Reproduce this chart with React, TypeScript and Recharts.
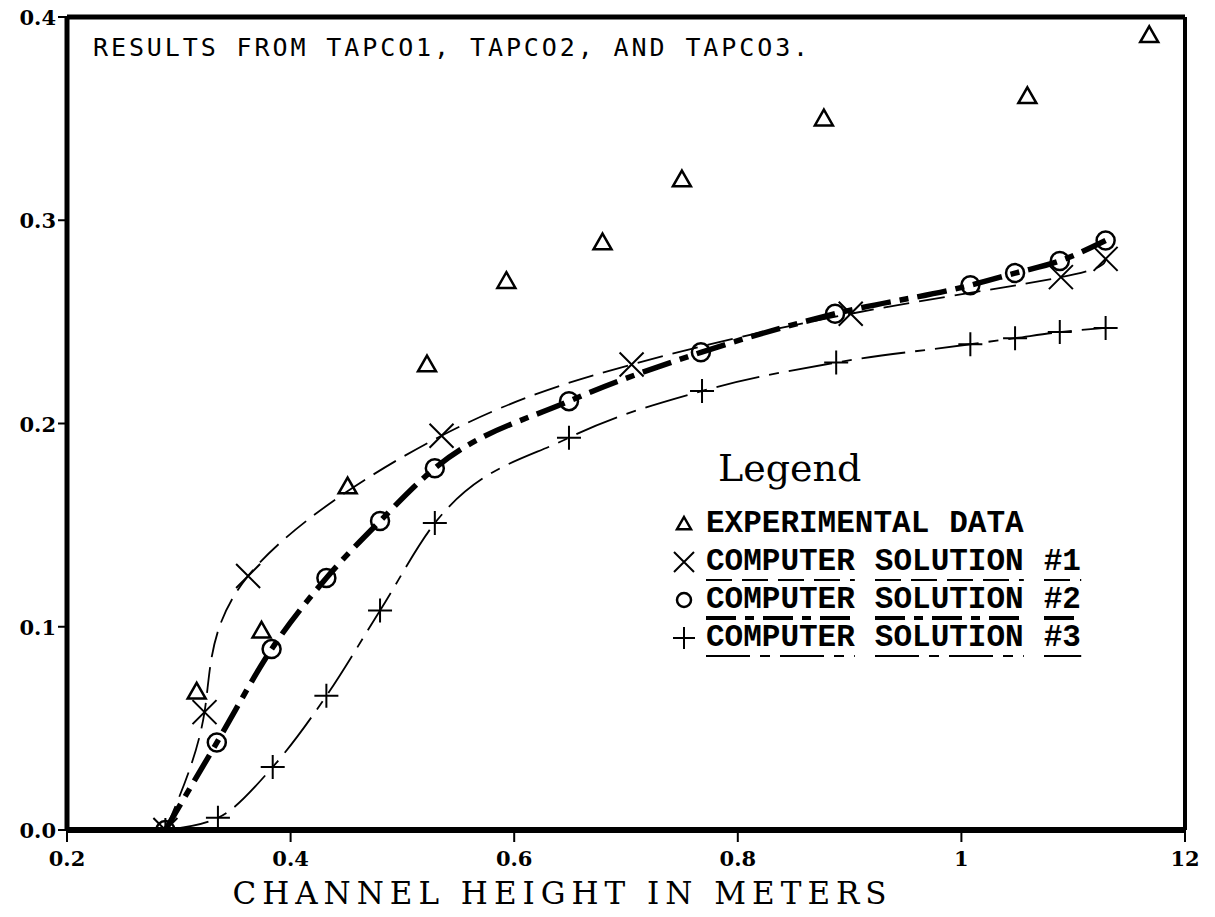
import React from "react";
import {
  ComposedChart,
  Line,
  Scatter,
  XAxis,
  YAxis,
  ReferenceLine,
} from "recharts";

// axis ticks
const xTicks = [0.2, 0.4, 0.6, 0.8, 1, 1.2];
const xTickLabels = ["0.2", "0.4", "0.6", "0.8", "1", "12"];
const yTicks = [0, 0.1, 0.2, 0.3, 0.4];
const yTickLabels = ["0.0", "0.1", "0.2", "0.3", "0.4"];

// experimental data (triangles)
const expX = [0.316, 0.374, 0.451, 0.522, 0.593, 0.679, 0.75, 0.877, 1.059, 1.168];
const expY = [0.068, 0.098, 0.169, 0.229, 0.27, 0.289, 0.32, 0.35, 0.361, 0.391];

// computer solution #1 (X)
const sol1X = [0.288, 0.323, 0.362, 0.535, 0.705, 0.901, 1.089, 1.129];
const sol1Y = [0.0, 0.058, 0.125, 0.194, 0.229, 0.254, 0.272, 0.281];

// computer solution #2 (O)
const sol2X = [0.288, 0.334, 0.383, 0.432, 0.48, 0.529, 0.649, 0.767, 0.887, 1.008, 1.048, 1.088, 1.129];
const sol2Y = [0.0, 0.043, 0.089, 0.124, 0.152, 0.178, 0.211, 0.235, 0.254, 0.268, 0.274, 0.28, 0.29];

// computer solution #3 (+)
const sol3X = [0.288, 0.335, 0.384, 0.432, 0.48, 0.529, 0.649, 0.768, 0.888, 1.008, 1.048, 1.088, 1.129];
const sol3Y = [0.0, 0.006, 0.031, 0.066, 0.108, 0.151, 0.193, 0.216, 0.23, 0.239, 0.242, 0.245, 0.247];

const zip = (xs: number[], ys: number[]) => xs.map((x, i) => ({ x, y: ys[i] }));

const expData = zip(expX, expY);
const sol1Data = zip(sol1X, sol1Y);
const sol2Data = zip(sol2X, sol2Y);
const sol3Data = zip(sol3X, sol3Y);

const DASH1 = "26 10";
const DASH2 = "30 9 9 9";
const DASH3 = "44 10 10 10";

const Tri = ({ cx, cy, s = 9 }: any) => (
  <path
    d={`M${cx},${cy - s} L${cx + s},${cy + s * 0.75} L${cx - s},${cy + s * 0.75} Z`}
    fill="none"
    stroke="#000"
    strokeWidth={2.5}
  />
);
const Cross = ({ cx, cy, s = 12 }: any) => (
  <path
    d={`M${cx - s},${cy - s} L${cx + s},${cy + s} M${cx + s},${cy - s} L${cx - s},${cy + s}`}
    stroke="#000"
    strokeWidth={2}
  />
);
const Ring = ({ cx, cy, r = 9 }: any) => (
  <circle cx={cx} cy={cy} r={r} fill="none" stroke="#000" strokeWidth={2.5} />
);
const Plus = ({ cx, cy, s = 12 }: any) => (
  <path
    d={`M${cx - s},${cy} L${cx + s},${cy} M${cx},${cy - s} L${cx},${cy + s}`}
    stroke="#000"
    strokeWidth={2}
  />
);

const tickFont = {
  fontFamily: "'DejaVu Serif', serif",
  fontWeight: 700,
  fontSize: 21,
  fill: "#000",
};

const XTick = ({ x, y, index }: any) => (
  <text x={x} y={y + 22} textAnchor="middle" {...tickFont}>
    {xTickLabels[index]}
  </text>
);
const YTick = ({ x, y, index }: any) => (
  <text x={x} y={y + 8} textAnchor="end" {...tickFont}>
    {yTickLabels[index]}
  </text>
);

const legendFont: React.CSSProperties = {
  fontFamily: "'Liberation Mono', monospace",
  fontWeight: 700,
  fontSize: 31,
  lineHeight: "30px",
  color: "#000",
};

function Word({ text, dash, width }: { text: string; dash?: string; width: number }) {
  return (
    <span style={{ position: "relative", display: "inline-block", marginRight: 20 }}>
      {text}
      {dash !== undefined && (
        <svg
          width="100%"
          height={8}
          style={{ position: "absolute", left: 0, top: 30, overflow: "visible" }}
        >
          <line x1={0} y1={3} x2="100%" y2={3} stroke="#000" strokeWidth={width} strokeDasharray={dash} />
        </svg>
      )}
    </span>
  );
}

const legendRows = [
  { label: ["EXPERIMENTAL", "DATA"], mark: "tri", dash: undefined, w: 0 },
  { label: ["COMPUTER", "SOLUTION", "#1"], mark: "x", dash: DASH1, w: 2 },
  { label: ["COMPUTER", "SOLUTION", "#2"], mark: "o", dash: DASH2, w: 4 },
  { label: ["COMPUTER", "SOLUTION", "#3"], mark: "+", dash: DASH3, w: 2 },
];

export default function App() {
  return (
    <div style={{ position: "absolute", left: 0, top: 0, width: 1215, height: 917, background: "#fff" }}>
      <ComposedChart
        width={1215}
        height={917}
        margin={{ top: 17, right: 30, bottom: 47, left: 7 }}
      >
        <XAxis
          type="number"
          dataKey="x"
          domain={[0.2, 1.2]}
          ticks={xTicks}
          interval={0}
          height={40}
          axisLine={{ stroke: "#000", strokeWidth: 6 }}
          tickLine={{ stroke: "#000", strokeWidth: 2 }}
          tickSize={12}
          tick={<XTick />}
          allowDataOverflow
        />
        <YAxis
          type="number"
          dataKey="y"
          domain={[0, 0.4]}
          ticks={yTicks}
          interval={0}
          width={60}
          axisLine={{ stroke: "#000", strokeWidth: 5 }}
          tickLine={{ stroke: "#000", strokeWidth: 2 }}
          tickSize={9}
          tick={<YTick />}
          allowDataOverflow
        />
        <ReferenceLine y={0.4} stroke="#000" strokeWidth={5} />
        <ReferenceLine x={1.2} stroke="#000" strokeWidth={4} />
        <Line
          data={sol1Data}
          dataKey="y"
          type="natural"
          stroke="#000"
          strokeWidth={1.8}
          strokeDasharray={DASH1}
          dot={(p: any) => <Cross key={`c${p.index}`} cx={p.cx} cy={p.cy} />}
          activeDot={false}
          isAnimationActive={false}
        />
        <Line
          data={sol3Data}
          dataKey="y"
          type="monotone"
          stroke="#000"
          strokeWidth={1.8}
          strokeDasharray={DASH3}
          dot={(p: any) => <Plus key={`p${p.index}`} cx={p.cx} cy={p.cy} />}
          activeDot={false}
          isAnimationActive={false}
        />
        <Line
          data={sol2Data}
          dataKey="y"
          type="monotone"
          stroke="#000"
          strokeWidth={5.5}
          strokeDasharray={DASH2}
          dot={(p: any) => <Ring key={`o${p.index}`} cx={p.cx} cy={p.cy} />}
          activeDot={false}
          isAnimationActive={false}
        />
        <Scatter
          data={expData}
          dataKey="y"
          shape={(p: any) => <Tri cx={p.cx} cy={p.cy} />}
          isAnimationActive={false}
        />
      </ComposedChart>

      <div
        style={{
          position: "absolute",
          left: 93,
          top: 33,
          fontFamily: "'DejaVu Sans Mono', monospace",
          fontSize: 25,
          letterSpacing: 2.9,
          lineHeight: "30px",
          color: "#000",
          whiteSpace: "nowrap",
        }}
      >
        RESULTS FROM TAPCO1, TAPCO2, AND TAPCO3.
      </div>

      <div
        style={{
          position: "absolute",
          left: 0,
          width: 1125,
          top: 877,
          textAlign: "center",
          fontFamily: "'DejaVu Serif', serif",
          fontSize: 31,
          letterSpacing: 6,
          lineHeight: "32px",
          color: "#000",
          whiteSpace: "nowrap",
        }}
      >
        CHANNEL HEIGHT IN METERS
      </div>

      <div
        style={{
          position: "absolute",
          left: 718,
          top: 446,
          fontFamily: "'DejaVu Serif', serif",
          fontSize: 38,
          lineHeight: "44px",
          color: "#000",
        }}
      >
        Legend
      </div>

      {legendRows.map((row, i) => (
        <div
          key={i}
          style={{ position: "absolute", left: 670, top: 509 + i * 38, display: "flex", alignItems: "flex-start", whiteSpace: "nowrap" }}
        >
          <svg width={28} height={30} style={{ marginRight: 8 }}>
            {row.mark === "tri" && <Tri cx={14} cy={15} s={7} />}
            {row.mark === "x" && <Cross cx={14} cy={15} s={10} />}
            {row.mark === "o" && <Ring cx={14} cy={15} r={7} />}
            {row.mark === "+" && <Plus cx={14} cy={15} s={11} />}
          </svg>
          <div style={{ ...legendFont, display: "flex" }}>
            {row.label.map((w, j) => (
              <Word key={j} text={w} dash={row.dash} width={row.w} />
            ))}
          </div>
        </div>
      ))}
    </div>
  );
}
